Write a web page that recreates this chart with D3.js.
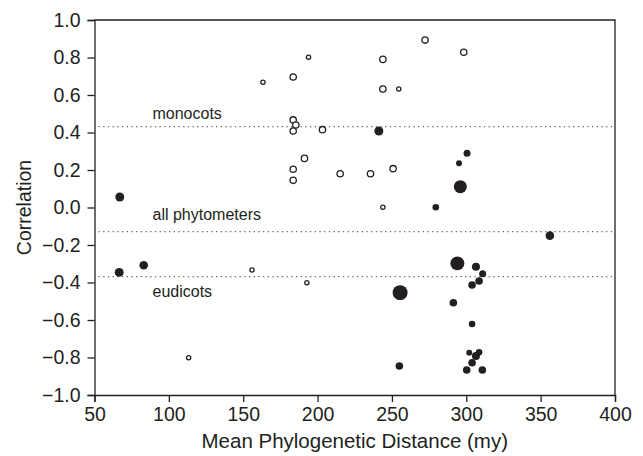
<!DOCTYPE html>
<html>
<head>
<meta charset="utf-8">
<script src="https://cdn.jsdelivr.net/npm/d3@7"></script>
<style>
  body { margin: 0; background: #fff; }
  text { font-family: "Liberation Sans", Arial, sans-serif; fill: #231f20; }
  .tick text { font-size: 19.5px; }
  .axisTitle { font-size: 19.5px; }
  .xTitle { font-size: 20.5px; }
  .refLabel { font-size: 16px; }
</style>
</head>
<body>
<div class="chart"></div>
<script>
// mean phylogenetic distance (my), correlation, clade and sample weight per phytometer
var distance = [
  272.3, 298.3, 193.9, 243.9, 183.6, 163.3, 243.9, 254.6, 183.6, 185.4, 183.6,
  203.3, 191.2, 183.6, 183.6, 215.2, 235.6, 250.8, 243.9, 192.8, 155.9, 113.3,
  241.2, 279.5, 295.1, 300.5, 296.0, 294.0, 67.0, 66.6, 83.1, 255.5, 291.3,
  255.0, 356.2, 306.5, 311.0, 308.6, 303.9, 303.9, 302.0, 308.6, 306.5, 303.9,
  300.3, 310.8
];
var correlation = [
  0.893, 0.828, 0.801, 0.790, 0.696, 0.668, 0.632, 0.632, 0.467, 0.440, 0.408,
  0.415, 0.262, 0.204, 0.145, 0.180, 0.180, 0.207, 0.001, -0.401, -0.333, -0.801,
  0.408, 0.001, 0.236, 0.289, 0.111, -0.298, 0.056, -0.346, -0.308, -0.454, -0.508,
  -0.845, -0.150, -0.316, -0.353, -0.392, -0.413, -0.621, -0.774, -0.772, -0.792, -0.828,
  -0.867, -0.867
];
var clade = [
  "monocot", "monocot", "monocot", "monocot", "monocot", "monocot", "monocot", "monocot",
  "monocot", "monocot", "monocot", "monocot", "monocot", "monocot", "monocot", "monocot",
  "monocot", "monocot", "monocot", "monocot", "monocot", "monocot",
  "eudicot", "eudicot", "eudicot", "eudicot", "eudicot", "eudicot", "eudicot", "eudicot",
  "eudicot", "eudicot", "eudicot", "eudicot", "eudicot", "eudicot", "eudicot", "eudicot",
  "eudicot", "eudicot", "eudicot", "eudicot", "eudicot", "eudicot", "eudicot", "eudicot"
];
var weight = [
  9, 9, 4, 9, 9, 4, 9, 4, 9, 9, 9,
  9, 9, 9, 9, 9, 9, 9, 4, 4, 4, 4,
  18, 9.7, 8, 11, 37.7, 43.7, 18, 18, 16.5, 50, 12.9,
  12.9, 16.5, 14.3, 11, 12.9, 12.9, 9.7, 8, 9.7, 14.3, 12.9,
  12.9, 12.9
];

// mean correlation lines
var refLabels = ["monocots", "all phytometers", "eudicots"];
var refValues = [0.431, -0.129, -0.369];

var xTicks = [50, 100, 150, 200, 250, 300, 350, 400];
var yTicks = [1.0, 0.8, 0.6, 0.4, 0.2, 0.0, -0.2, -0.4, -0.6, -0.8, -1.0];

var width = 643
var height = 456
var plotLeft = 94.5, plotRight = 615, plotTop = 20, plotBottom = 395

var points = distance.map(function(d, i) {
  return { x: d, y: correlation[i], clade: clade[i], n: weight[i] };
});

var xScale = d3.scaleLinear().domain([50, 400]).range([plotLeft, plotRight]);
var yScale = d3.scaleLinear().domain([-1, 1]).range([plotBottom, plotTop]);
var rScale = d3.scaleSqrt().domain([0, 60]).range([0, 8.2]);

var svgContainer = d3.select(".chart").append("svg")
                                     .attr("width", width)
                                     .attr("height", height);

// frame: top and right edges
svgContainer.append("path")
            .attr("d", "M" + plotLeft + "," + plotTop + "H" + plotRight + "V" + plotBottom)
            .attr("fill", "none")
            .attr("stroke", "#231f20")
            .attr("stroke-width", 1.3);

var xAxis = svgContainer.append("g")
                        .attr("transform", "translate(0," + plotBottom + ")")
                        .call(d3.axisBottom(xScale).tickValues(xTicks).tickSize(7).tickPadding(5)
                                .tickFormat(d3.format("d")));

var yAxis = svgContainer.append("g")
                        .attr("transform", "translate(" + plotLeft + ",0)")
                        .call(d3.axisLeft(yScale).tickValues(yTicks).tickSize(7).tickPadding(7)
                                .tickFormat(d3.format(".1f")));

svgContainer.selectAll(".domain, .tick line")
            .attr("stroke", "#231f20")
            .attr("stroke-width", 1.3);
svgContainer.selectAll(".tick text").attr("fill", "#231f20");

// dotted reference lines with labels
svgContainer.selectAll(".refLine")
            .data(refValues)
            .enter()
            .append("line")
            .attr("class", "refLine")
            .attr("x1", plotLeft + 4)
            .attr("x2", plotRight)
            .attr("y1", function(d) { return yScale(d); })
            .attr("y2", function(d) { return yScale(d); })
            .attr("stroke", "#444")
            .attr("stroke-width", 1)
            .attr("stroke-dasharray", "1.3,3.4");

var labelOffset = [-8, -12, 20];
svgContainer.selectAll(".refLabel")
            .data(refLabels)
            .enter()
            .append("text")
            .attr("class", "refLabel")
            .attr("x", xScale(89))
            .attr("y", function(d, i) { return yScale(refValues[i]) + labelOffset[i]; })
            .text(function(d) { return d; });

var circles = svgContainer.selectAll("circle")
                          .data(points)
                          .enter()
                          .append("circle")
                          .attr("cx", function(d) { return xScale(d.x); })
                          .attr("cy", function(d) { return yScale(d.y); })
                          .attr("r", function(d) { return rScale(d.n); })
                          .attr("fill", function(d) { return d.clade == "monocot" ? "#fff" : "#231f20"; })
                          .attr("stroke", "#231f20")
                          .attr("stroke-width", function(d) { return d.clade == "monocot" ? 1.3 : 0; });

var xAxisLabel = svgContainer.append("text")
                             .attr("class", "axisTitle xTitle")
                             .attr("x", (plotLeft + plotRight) / 2)
                             .attr("y", 448)
                             .attr("text-anchor", "middle")
                             .text("Mean Phylogenetic Distance (my)");

var yAxisLabel = svgContainer.append("text")
                             .attr("class", "axisTitle")
                             .attr("transform", "translate(31," + (plotTop + plotBottom) / 2 + ") rotate(-90)")
                             .attr("text-anchor", "middle")
                             .text("Correlation");
</script>
</body>
</html>
